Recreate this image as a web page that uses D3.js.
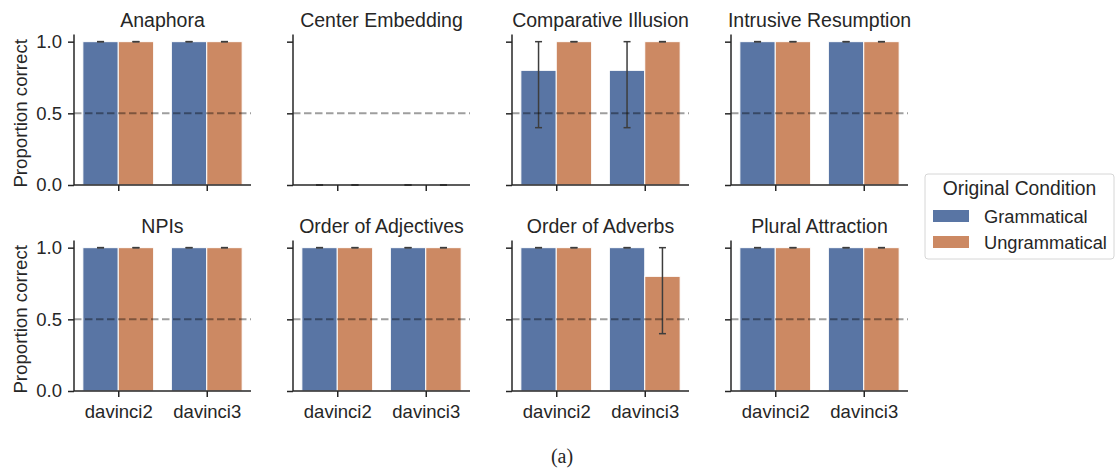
<!DOCTYPE html>
<html>
<head>
<meta charset="utf-8">
<script src="https://cdn.jsdelivr.net/npm/d3@7"></script>
<style>
  body { margin: 0; background: #fff; }
  svg text { font-family: "Liberation Sans", Arial, sans-serif; fill: #262626; }
</style>
</head>
<body>
<svg id="chart" width="1115" height="470"></svg>
<script>
// data
const phenomena = [
  'Anaphora', 'Center Embedding', 'Comparative Illusion', 'Intrusive Resumption',
  'NPIs', 'Order of Adjectives', 'Order of Adverbs', 'Plural Attraction'
];
const models = ['davinci2', 'davinci3'];
const conditions = ['Grammatical', 'Ungrammatical'];
// mean per phenomenon: [davinci2 G, davinci2 U, davinci3 G, davinci3 U]
const means = [
  [1, 1, 1, 1],
  [0, 0, 0, 0],
  [0.8, 1, 0.8, 1],
  [1, 1, 1, 1],
  [1, 1, 1, 1],
  [1, 1, 1, 1],
  [1, 1, 1, 0.8],
  [1, 1, 1, 1]
];
const ciLow = [
  [1, 1, 1, 1],
  [0, 0, 0, 0],
  [0.4, 1, 0.4, 1],
  [1, 1, 1, 1],
  [1, 1, 1, 1],
  [1, 1, 1, 1],
  [1, 1, 1, 0.4],
  [1, 1, 1, 1]
];
const ciHigh = [
  [1, 1, 1, 1],
  [0, 0, 0, 0],
  [1, 1, 1, 1],
  [1, 1, 1, 1],
  [1, 1, 1, 1],
  [1, 1, 1, 1],
  [1, 1, 1, 1],
  [1, 1, 1, 1]
];
const yTicks = [0, 0.5, 1];
const chance = 0.5;

const colors = ['#5975a4', '#cc8963'];
const ink = '#262626';

const svg = d3.select('#chart');

// panel geometry
const panelW = 177, panelH = 150.5;
const panelX = [74, 293, 512, 731];
const panelY = [34.5, 240.5];

const x = d3.scaleLinear().domain([-0.5, 1.5]).range([0, panelW]);
const y = d3.scaleLinear().domain([0, 1.05]).range([panelH, 0]);
const barW = x(0.4) - x(0);

phenomena.forEach((name, i) => {
  const col = i % 4, row = Math.floor(i / 4);
  const g = svg.append('g')
    .attr('transform', `translate(${panelX[col]},${panelY[row]})`);

  const bars = [];
  models.forEach((m, mi) => {
    conditions.forEach((c, ci) => {
      const k = mi * 2 + ci;
      bars.push({
        cx: mi - 0.2 + ci * 0.4,
        cond: ci,
        v: means[i][k],
        lo: ciLow[i][k],
        hi: ciHigh[i][k]
      });
    });
  });

  g.selectAll('rect.bar').data(bars).join('rect')
    .attr('class', 'bar')
    .attr('x', d => x(d.cx) - barW / 2)
    .attr('width', barW)
    .attr('y', d => y(d.v))
    .attr('height', d => y(0) - y(d.v))
    .attr('fill', d => colors[d.cond])
    .attr('stroke', '#fff')
    .attr('stroke-width', 1);

  // error bars
  const cap = 3.5;
  const eb = g.selectAll('g.eb').data(bars).join('g').attr('class', 'eb')
    .attr('stroke', '#3d3d3d').attr('stroke-width', 1.5);
  eb.append('line')
    .attr('x1', d => x(d.cx)).attr('x2', d => x(d.cx))
    .attr('y1', d => y(d.lo)).attr('y2', d => y(d.hi));
  eb.append('line')
    .attr('x1', d => x(d.cx) - cap).attr('x2', d => x(d.cx) + cap)
    .attr('y1', d => y(d.lo)).attr('y2', d => y(d.lo));
  eb.append('line')
    .attr('x1', d => x(d.cx) - cap).attr('x2', d => x(d.cx) + cap)
    .attr('y1', d => y(d.hi)).attr('y2', d => y(d.hi));

  // chance line
  g.append('line')
    .attr('x1', 0).attr('x2', panelW)
    .attr('y1', y(chance)).attr('y2', y(chance))
    .attr('stroke', '#000').attr('stroke-opacity', 0.38)
    .attr('stroke-width', 2)
    .attr('stroke-dasharray', '7.5,3.5');

  // axes
  const yAxis = d3.axisLeft(y).tickValues(yTicks).tickSize(6).tickPadding(6)
    .tickFormat(col === 0 ? d3.format('.1f') : '');
  const ya = g.append('g').call(yAxis);
  const xAxis = d3.axisBottom(x).tickValues([0, 1]).tickSize(6).tickPadding(8)
    .tickFormat(row === 1 ? (d => models[d]) : '');
  const xa = g.append('g').attr('transform', `translate(0,${panelH})`).call(xAxis);

  [ya, xa].forEach(a => {
    a.select('.domain').attr('stroke', ink).attr('stroke-width', 1.5);
    a.selectAll('.tick line').attr('stroke', ink).attr('stroke-width', 1.5);
    a.selectAll('.tick text').attr('fill', ink).style('font-size', '18.5px')
      .style('font-family', '"Liberation Sans", Arial, sans-serif');
  });
  // plain spines without end ticks
  ya.select('.domain').attr('d', `M0,0V${panelH}`);
  xa.select('.domain').attr('d', `M0,0H${panelW}`);

  g.append('text')
    .attr('x', panelW / 2).attr('y', -8)
    .attr('text-anchor', 'middle')
    .style('font-size', '19.5px')
    .text(name);

  if (col === 0) {
    g.append('text')
      .attr('transform', `translate(${27 - panelX[0]},${y(0.5)}) rotate(-90)`)
      .attr('text-anchor', 'middle')
      .style('font-size', '18.7px')
      .text('Proportion correct');
  }
});

// legend
const lg = svg.append('g').attr('transform', 'translate(925,174)');
lg.append('rect')
  .attr('width', 189).attr('height', 85)
  .attr('rx', 3)
  .attr('fill', '#fff').attr('stroke', '#d6d6d6').attr('stroke-width', 1);
lg.append('text')
  .attr('x', 94.5).attr('y', 21)
  .attr('text-anchor', 'middle')
  .style('font-size', '19.3px')
  .text('Original Condition');
conditions.forEach((c, i) => {
  lg.append('rect')
    .attr('x', 8).attr('y', 36 + i * 26)
    .attr('width', 36).attr('height', 12)
    .attr('fill', colors[i]);
  lg.append('text')
    .attr('x', 59).attr('y', 49 + i * 26)
    .style('font-size', '18.3px')
    .text(c);
});

svg.append('text')
  .attr('x', 562).attr('y', 463)
  .attr('text-anchor', 'middle')
  .style('font-family', '"Liberation Serif", "Times New Roman", serif')
  .style('font-size', '20px')
  .text('(a)');
</script>
</body>
</html>
